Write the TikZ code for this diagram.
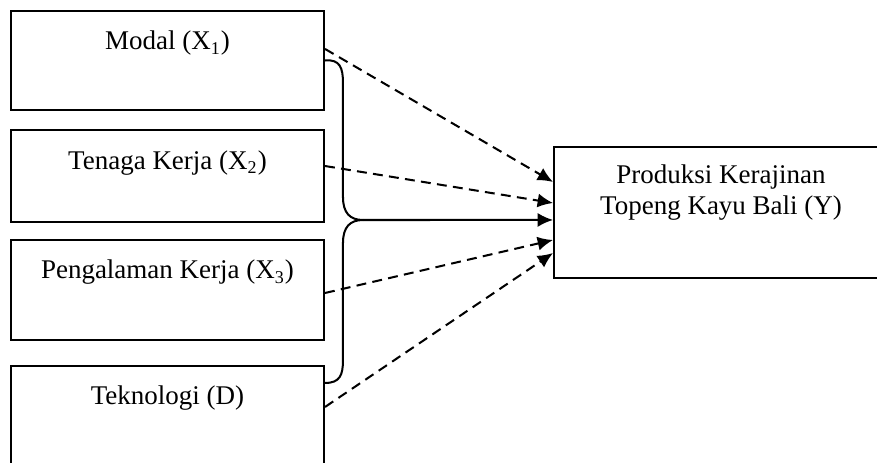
\documentclass[tikz,border=0pt]{standalone}
\usepackage{fontspec}
\setmainfont{Liberation Serif}
\usepackage{tikz}
\usetikzlibrary{calc}
\usetikzlibrary{arrows.meta}
\usetikzlibrary{positioning}
\tikzset{>={Latex[length=2.4mm, width=2.2mm]}}
\tikzset{var/.style = {rectangle, draw=black, line width=0.9pt, inner sep=0pt, minimum width=4.891cm, anchor=north, text height=0.609cm, font=\fontsize{12pt}{14.2pt}\selectfont}}
\tikzset{eff/.style = {->, line width=0.9pt, dash pattern=on 4.4pt off 2.8pt}}

\begin{document}
\begin{tikzpicture}
\useasboundingbox (0, 0) rectangle (13.703, -7.219);
\node [var, text depth=0.938cm] (X1) at (2.617, -0.156) {Modal (X\textsubscript{1})};
\node [var, text depth=0.828cm] (X2) at (2.617, -2.016) {Tenaga Kerja (X\textsubscript{2})};
\node [var, text depth=0.953cm] (X3) at (2.617, -3.734) {Pengalaman Kerja (X\textsubscript{3})};
\node [var, text depth=1.2cm] (D) at (2.617, -5.703) {Teknologi (D)};
\node [var, align=center, minimum width=5.219cm, anchor=north west, text height=1.0625cm, text depth=0.984cm] (Y) at (8.641, -2.281) {Produksi Kerajinan\\Topeng Kayu Bali (Y)};
\coordinate (tip) at (5.672, -3.4375);
\coordinate (brace end) at ($(D.north east)+(0, -0.281)$);
% brace
\draw [line width=0.9pt] (X1.east) .. controls (5.3125, -0.922) and (5.359, -1.0625) .. (5.359, -1.297)
  -- (5.359, -3.078) .. controls (5.359, -3.328) and (5.469, -3.4375) .. (tip)
  .. controls (5.469, -3.4375) and (5.359, -3.547) .. (5.359, -3.797)
  -- (5.359, -5.625) .. controls (5.359, -5.859) and (5.3125, -5.984) .. (brace end);
\draw [->, line width=0.9pt] (tip) to ($(Y.north west)+(0, -1.156)$);
\draw [eff] ($(X1.north east)+(0, -0.609)$) to ($(Y.north west)+(0, -0.5625)$);
\draw [eff] ($(X2.north east)+(0, -0.578)$) to ($(Y.north west)+(0, -0.891)$);
\draw [eff] ($(X3.north east)+(0, -0.844)$) to ($(Y.north west)+(0, -1.469)$);
\draw [eff] ($(D.north east)+(0, -0.656)$) to ($(Y.north west)+(0, -1.672)$);
\end{tikzpicture}
\end{document}
